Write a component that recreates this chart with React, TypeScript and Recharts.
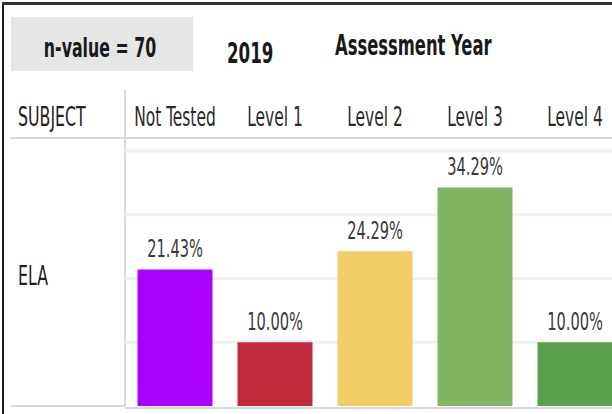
import { BarChart, Bar, XAxis, YAxis, CartesianGrid, Cell, LabelList } from 'recharts';

// Values (ELA, 2019)
const LEVELS = ['Not Tested', 'Level 1', 'Level 2', 'Level 3', 'Level 4'];
const PERCENTS = [21.43, 10.0, 24.29, 34.29, 10.0];
const BAR_COLORS = ['#a900ff', '#bf2a3c', '#f2cd66', '#80b663', '#59a14d'];
const Y_TICKS = [0, 10, 20, 30, 40];
const GRID_VALUES = [10, 20, 30, 40];

const FONT = "'DejaVu Sans Condensed', 'DejaVu Sans', sans-serif";
const LINE = '#d9d9d9';
// the source uses a tall, narrow face; squeeze DejaVu Condensed horizontally
const SQUEEZE = 0.65;

const chartData = LEVELS.map((level, i) => ({ level, value: PERCENTS[i] }));

type NarrowProps = {
  x: number;
  y: number;
  size: number;
  fill: string;
  bold?: boolean;
  anchor?: 'start' | 'middle' | 'end';
  children: React.ReactNode;
};

function NarrowText({ x, y, size, fill, bold, anchor = 'start', children }: NarrowProps) {
  return (
    <text
      x={0}
      y={0}
      transform={`translate(${x},${y}) scale(${SQUEEZE},1)`}
      textAnchor={anchor}
      fontSize={size}
      fontWeight={bold ? 'bold' : 'normal'}
      fill={fill}
      fontFamily={FONT}
    >
      {children}
    </text>
  );
}

const LevelTick = (props: any) => {
  const { x, y, payload } = props;
  return (
    <NarrowText x={x} y={y} size={26.5} fill="#2b2b2b" anchor="middle">
      {payload.value}
    </NarrowText>
  );
};

const ValueLabel = (props: any) => {
  const { x, y, width, value } = props;
  return (
    <NarrowText x={x + width / 2} y={y - 12} size={25} fill="#3a3a3a" anchor="middle">
      {`${Number(value).toFixed(2)}%`}
    </NarrowText>
  );
};

export default function App() {
  return (
    <div
      style={{
        position: 'fixed',
        left: 0,
        top: 0,
        width: 612,
        height: 414,
        overflow: 'hidden',
        background: '#fff',
        fontFamily: FONT,
      }}
    >
      {/* outer frame (left + top) */}
      <div style={{ position: 'absolute', left: 2, top: 2, width: 2, height: 412, background: '#1a1a1a' }} />
      <div style={{ position: 'absolute', left: 2, top: 2, width: 610, height: 3, background: '#333' }} />

      {/* n-value box */}
      <div style={{ position: 'absolute', left: 11, top: 17, width: 182, height: 54, background: '#e6e6e6' }} />

      {/* table lines */}
      <div style={{ position: 'absolute', left: 124, top: 90, width: 2, height: 316, background: LINE }} />
      <div style={{ position: 'absolute', left: 10, top: 137, width: 602, height: 2, background: LINE }} />
      <div style={{ position: 'absolute', left: 11, top: 405, width: 114, height: 2, background: LINE }} />
      <div style={{ position: 'absolute', left: 125, top: 407, width: 487, height: 2, background: LINE }} />

      {/* header / row text */}
      <svg width={612} height={414} style={{ position: 'absolute', left: 0, top: 0 }}>
        <NarrowText x={100} y={57} size={27} bold fill="#1a1a1a" anchor="middle">
          n-value = 70
        </NarrowText>
        <NarrowText x={227} y={63} size={28.5} bold fill="#1a1a1a">
          2019
        </NarrowText>
        <NarrowText x={335} y={55} size={28} bold fill="#1a1a1a">
          Assessment Year
        </NarrowText>
        <NarrowText x={18} y={126} size={27} fill="#222">
          SUBJECT
        </NarrowText>
        <NarrowText x={18} y={285} size={27} fill="#222">
          ELA
        </NarrowText>
      </svg>

      <div style={{ position: 'absolute', left: 125, top: 90 }}>
        <BarChart
          width={500}
          height={318}
          data={chartData}
          margin={{ top: 0, right: 0, bottom: 2, left: 0 }}
          barCategoryGap="12.5%"
        >
          <CartesianGrid vertical={false} horizontalValues={GRID_VALUES} stroke="#f0f0f0" strokeWidth={3} />
          <XAxis
            dataKey="level"
            orientation="top"
            height={61}
            axisLine={false}
            tickLine={false}
            tickMargin={19}
            interval={0}
            tick={LevelTick}
          />
          <YAxis hide domain={[0, 40]} ticks={Y_TICKS} />
          <Bar dataKey="value" isAnimationActive={false}>
            {chartData.map((d, i) => (
              <Cell key={d.level} fill={BAR_COLORS[i]} />
            ))}
            <LabelList dataKey="value" position="top" content={ValueLabel} />
          </Bar>
        </BarChart>
      </div>
    </div>
  );
}
